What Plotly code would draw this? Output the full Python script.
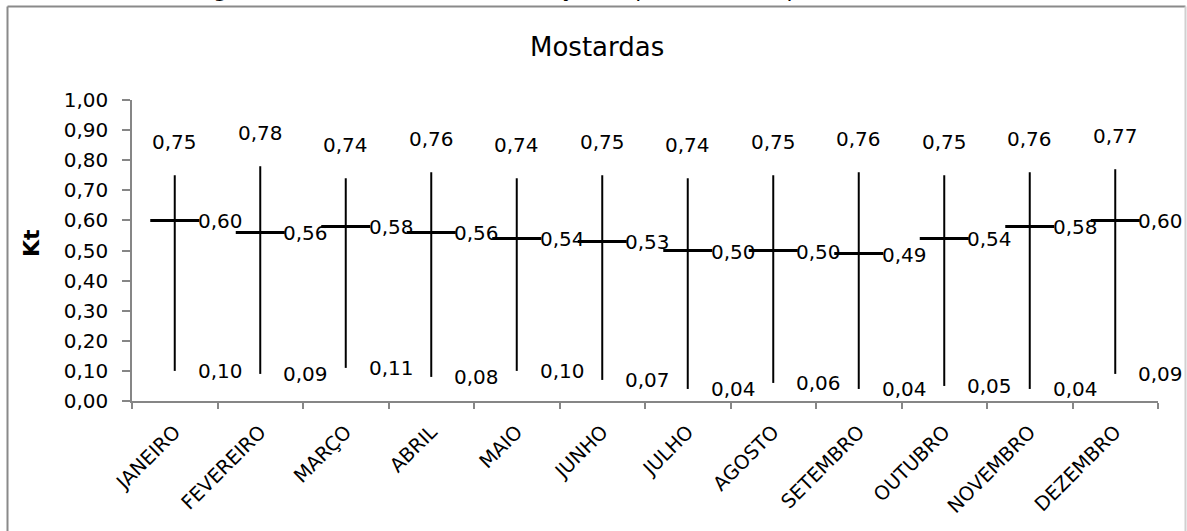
import plotly.graph_objects as go

# Monthly clearness index (Kt) for Mostardas
months = ["JANEIRO", "FEVEREIRO", "MARÇO", "ABRIL", "MAIO", "JUNHO",
          "JULHO", "AGOSTO", "SETEMBRO", "OUTUBRO", "NOVEMBRO", "DEZEMBRO"]
kt_max = [0.75, 0.78, 0.74, 0.76, 0.74, 0.75, 0.74, 0.75, 0.76, 0.75, 0.76, 0.77]
kt_mean = [0.60, 0.56, 0.58, 0.56, 0.54, 0.53, 0.50, 0.50, 0.49, 0.54, 0.58, 0.60]
kt_min = [0.10, 0.09, 0.11, 0.08, 0.10, 0.07, 0.04, 0.06, 0.04, 0.05, 0.04, 0.09]
y_ticks = [i / 10 for i in range(11)]

W, H = 1187, 531
PL, PR, PT, PB = 132, 1158, 100, 401   # plot area in pixels
FONT = "DejaVu Sans"
AXIS_GREY = "#868686"
LABEL_SIZE = 20


def fx(px):
    return (px - PL) / (PR - PL)


def fy(py):
    return (PB - py) / (PB - PT)


def fmt(v):
    return f"{v:.2f}".replace(".", ",")


fig = go.Figure()

# vertical high-low lines
hx, hy = [], []
for m, lo, hi in zip(months, kt_min, kt_max):
    hx += [m, m, None]
    hy += [lo, hi, None]
fig.add_trace(go.Scatter(x=hx, y=hy, mode="lines",
                         line=dict(color="black", width=2),
                         hoverinfo="skip", showlegend=False))

# mean tick marks
fig.add_trace(go.Scatter(x=months, y=kt_mean, mode="markers",
                         marker=dict(symbol="line-ew", size=35,
                                     line=dict(color="black", width=3)),
                         showlegend=False))

annotations = []
lab_font = dict(family=FONT, size=LABEL_SIZE, color="black")
for m, lo, av, hi in zip(months, kt_min, kt_mean, kt_max):
    annotations.append(dict(x=m, y=hi, xref="x", yref="y", text=fmt(hi),
                            showarrow=False, xanchor="center", yanchor="middle",
                            yshift=33, font=lab_font))
    annotations.append(dict(x=m, y=av, xref="x", yref="y", text=fmt(av),
                            showarrow=False, xanchor="left", yanchor="middle",
                            xshift=21, yshift=-1, font=lab_font))
    annotations.append(dict(x=m, y=lo, xref="x", yref="y", text=fmt(lo),
                            showarrow=False, xanchor="left", yanchor="middle",
                            xshift=21, font=lab_font))

# chart title
annotations.append(dict(x=fx(597), y=fy(47), xref="paper", yref="paper",
                        text="Mostardas", showarrow=False,
                        xanchor="center", yanchor="middle",
                        font=dict(family=FONT, size=26, color="black")))
# y-axis title
annotations.append(dict(x=fx(31), y=fy(243), xref="paper", yref="paper",
                        text="<b>Kt</b>", showarrow=False, textangle=-90,
                        xanchor="center", yanchor="middle",
                        font=dict(family=FONT, size=22, color="black")))
# figure caption above the chart frame
annotations.append(dict(x=fx(585), y=fy(3.8), xref="paper", yref="paper",
                        text="Figura 20 – Média mensal e variação Kt para o município de Mostardas",
                        showarrow=False, xanchor="center", yanchor="bottom",
                        font=dict(family=FONT, size=22, color="black")))

# chart frame
shapes = [
    dict(type="line", xref="paper", yref="paper", x0=fx(7.5), x1=fx(7.5),
         y0=fy(6.5), y1=fy(560), line=dict(color="#8a8a8a", width=2)),
    dict(type="line", xref="paper", yref="paper", x0=fx(7.5), x1=fx(1185.5),
         y0=fy(6.5), y1=fy(6.5), line=dict(color="#8a8a8a", width=2)),
    dict(type="line", xref="paper", yref="paper", x0=fx(1185.5), x1=fx(1185.5),
         y0=fy(6.5), y1=fy(560), line=dict(color="#d0d0d0", width=2)),
]

fig.update_layout(
    width=W, height=H, autosize=False,
    margin=dict(l=PL, r=W - PR, t=PT, b=H - PB, pad=0),
    paper_bgcolor="white", plot_bgcolor="white",
    separators=",.",
    font=dict(family=FONT, size=LABEL_SIZE, color="black"),
    annotations=annotations, shapes=shapes,
    xaxis=dict(type="category", categoryorder="array", categoryarray=months,
               range=[-0.5, len(months) - 0.5],
               showline=True, linecolor=AXIS_GREY, linewidth=1.5,
               ticks="outside", tickson="boundaries", ticklen=6,
               tickcolor=AXIS_GREY, tickwidth=1.5, tickangle=-45,
               ticklabelstandoff=10,
               tickfont=dict(family=FONT, size=19.5, color="black"),
               showgrid=False, zeroline=False),
    yaxis=dict(range=[0, 1], tickvals=y_ticks, tickformat=".2f",
               showline=True, linecolor=AXIS_GREY, linewidth=1.5,
               ticks="outside", ticklen=8, tickcolor=AXIS_GREY, tickwidth=1.5,
               ticklabelstandoff=10,
               tickfont=dict(family=FONT, size=LABEL_SIZE, color="black"),
               showgrid=False, zeroline=False),
)

fig.write_html("out.html")
